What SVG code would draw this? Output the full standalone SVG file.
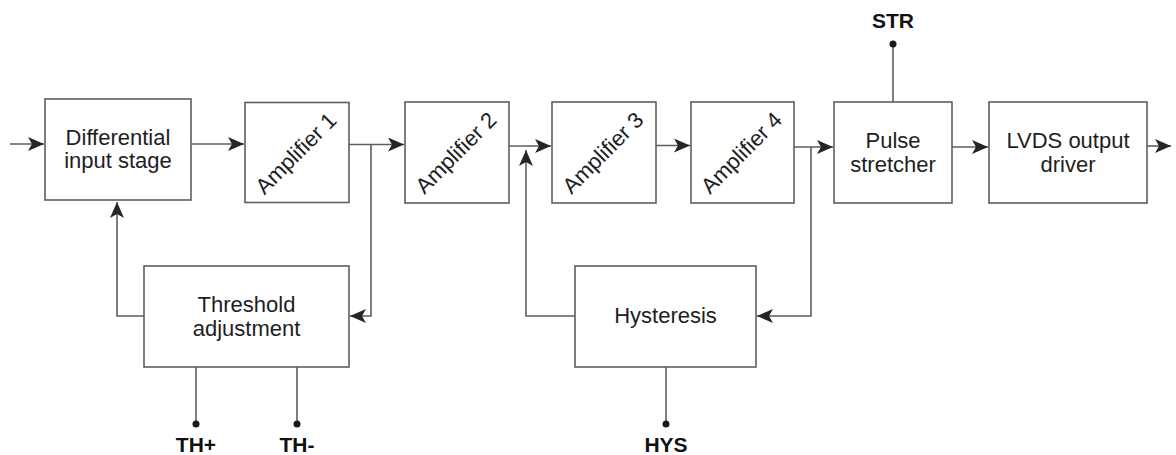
<svg xmlns="http://www.w3.org/2000/svg" width="1176" height="455" viewBox="0 0 1176 455">
  <defs>
    <marker id="arrow" markerUnits="userSpaceOnUse" viewBox="0 0 16 14" refX="16" refY="7" markerWidth="16" markerHeight="14" orient="auto">
      <path d="M0,0 L16,7 L0,14 L4,7 Z" fill="#252525"/>
    </marker>
  </defs>
  <style>
    .box { fill: #ffffff; stroke: #5e5e5e; stroke-width: 1.6; }
    .wire { fill: none; stroke: #5e5e5e; stroke-width: 1.6; }
    .flow { fill: none; stroke: #5e5e5e; stroke-width: 1.6; marker-end: url(#arrow); }
    .pin { fill: #1a1a1a; }
    .lbl { font-family: "Liberation Sans", Arial, sans-serif; font-size: 22px; fill: #1e1e1e; text-anchor: middle; }
    .amp { font-family: "Liberation Sans", Arial, sans-serif; font-size: 22px; fill: #1e1e1e; text-anchor: middle; }
    .sig { font-family: "Liberation Sans", Arial, sans-serif; font-size: 21px; font-weight: bold; fill: #111111; text-anchor: middle; }
  </style>

  <rect width="1176" height="455" fill="#ffffff"/>

  <!-- signal path and feedback connectors -->
  <g id="connectors">
    <path class="flow" d="M10,144 H44"/>
    <path class="flow" d="M191,144 H244"/>
    <path class="flow" d="M349,144.5 H404"/>
    <path class="flow" d="M371,144.5 V316 H350"/>
    <path class="flow" d="M144,316 H117 V202"/>
    <path class="flow" d="M509,146 H551"/>
    <path class="flow" d="M575,316 H526 V150"/>
    <path class="flow" d="M656,145.5 H690"/>
    <path class="flow" d="M794,147 H833"/>
    <path class="flow" d="M811,147 V316 H757"/>
    <path class="flow" d="M952,147 H988"/>
    <path class="flow" d="M1147,146 H1171"/>
  </g>

  <g id="diff-input">
    <rect class="box" x="45" y="99" width="146" height="101"/>
    <text class="lbl" x="118" y="145">Differential</text>
    <text class="lbl" x="118" y="168">input stage</text>
  </g>

  <g id="amp1">
    <rect class="box" x="245" y="102.5" width="104" height="100"/>
    <text class="amp" transform="translate(297,153) rotate(-45)" x="-1" y="7">Amplifier 1</text>
  </g>

  <g id="amp2">
    <rect class="box" x="405" y="102" width="104" height="101"/>
    <text class="amp" transform="translate(457,152.5) rotate(-45)" x="-1" y="7">Amplifier 2</text>
  </g>

  <g id="amp3">
    <rect class="box" x="552" y="102" width="104" height="101"/>
    <text class="amp" transform="translate(604,152.5) rotate(-45)" x="-1" y="7">Amplifier 3</text>
  </g>

  <g id="amp4">
    <rect class="box" x="691" y="102" width="103" height="101"/>
    <text class="amp" transform="translate(742.5,152.5) rotate(-45)" x="-1" y="7">Amplifier 4</text>
  </g>

  <g id="pulse-stretcher">
    <line class="wire" x1="893" y1="44" x2="893" y2="102"/>
    <circle class="pin" cx="893" cy="44" r="3.5"/>
    <text class="sig" x="893" y="28">STR</text>
    <rect class="box" x="834" y="102" width="118" height="101"/>
    <text class="lbl" x="893" y="148">Pulse</text>
    <text class="lbl" x="893" y="172">stretcher</text>
  </g>

  <g id="lvds-driver">
    <rect class="box" x="989" y="102" width="158" height="101"/>
    <text class="lbl" x="1068" y="148">LVDS output</text>
    <text class="lbl" x="1068" y="172">driver</text>
  </g>

  <g id="threshold">
    <rect class="box" x="144" y="266" width="205" height="101"/>
    <text class="lbl" x="246.5" y="312">Threshold</text>
    <text class="lbl" x="246.5" y="336">adjustment</text>
    <line class="wire" x1="196" y1="367" x2="196" y2="424"/>
    <circle class="pin" cx="196" cy="424" r="3.5"/>
    <text class="sig" x="196" y="452">TH+</text>
    <line class="wire" x1="297" y1="367" x2="297" y2="424"/>
    <circle class="pin" cx="297" cy="424" r="3.5"/>
    <text class="sig" x="297" y="452">TH-</text>
  </g>

  <g id="hysteresis">
    <rect class="box" x="575" y="266" width="181" height="101"/>
    <text class="lbl" x="665.5" y="323">Hysteresis</text>
    <line class="wire" x1="666" y1="367" x2="666" y2="424"/>
    <circle class="pin" cx="666" cy="424" r="3.5"/>
    <text class="sig" x="666" y="452">HYS</text>
  </g>
</svg>
